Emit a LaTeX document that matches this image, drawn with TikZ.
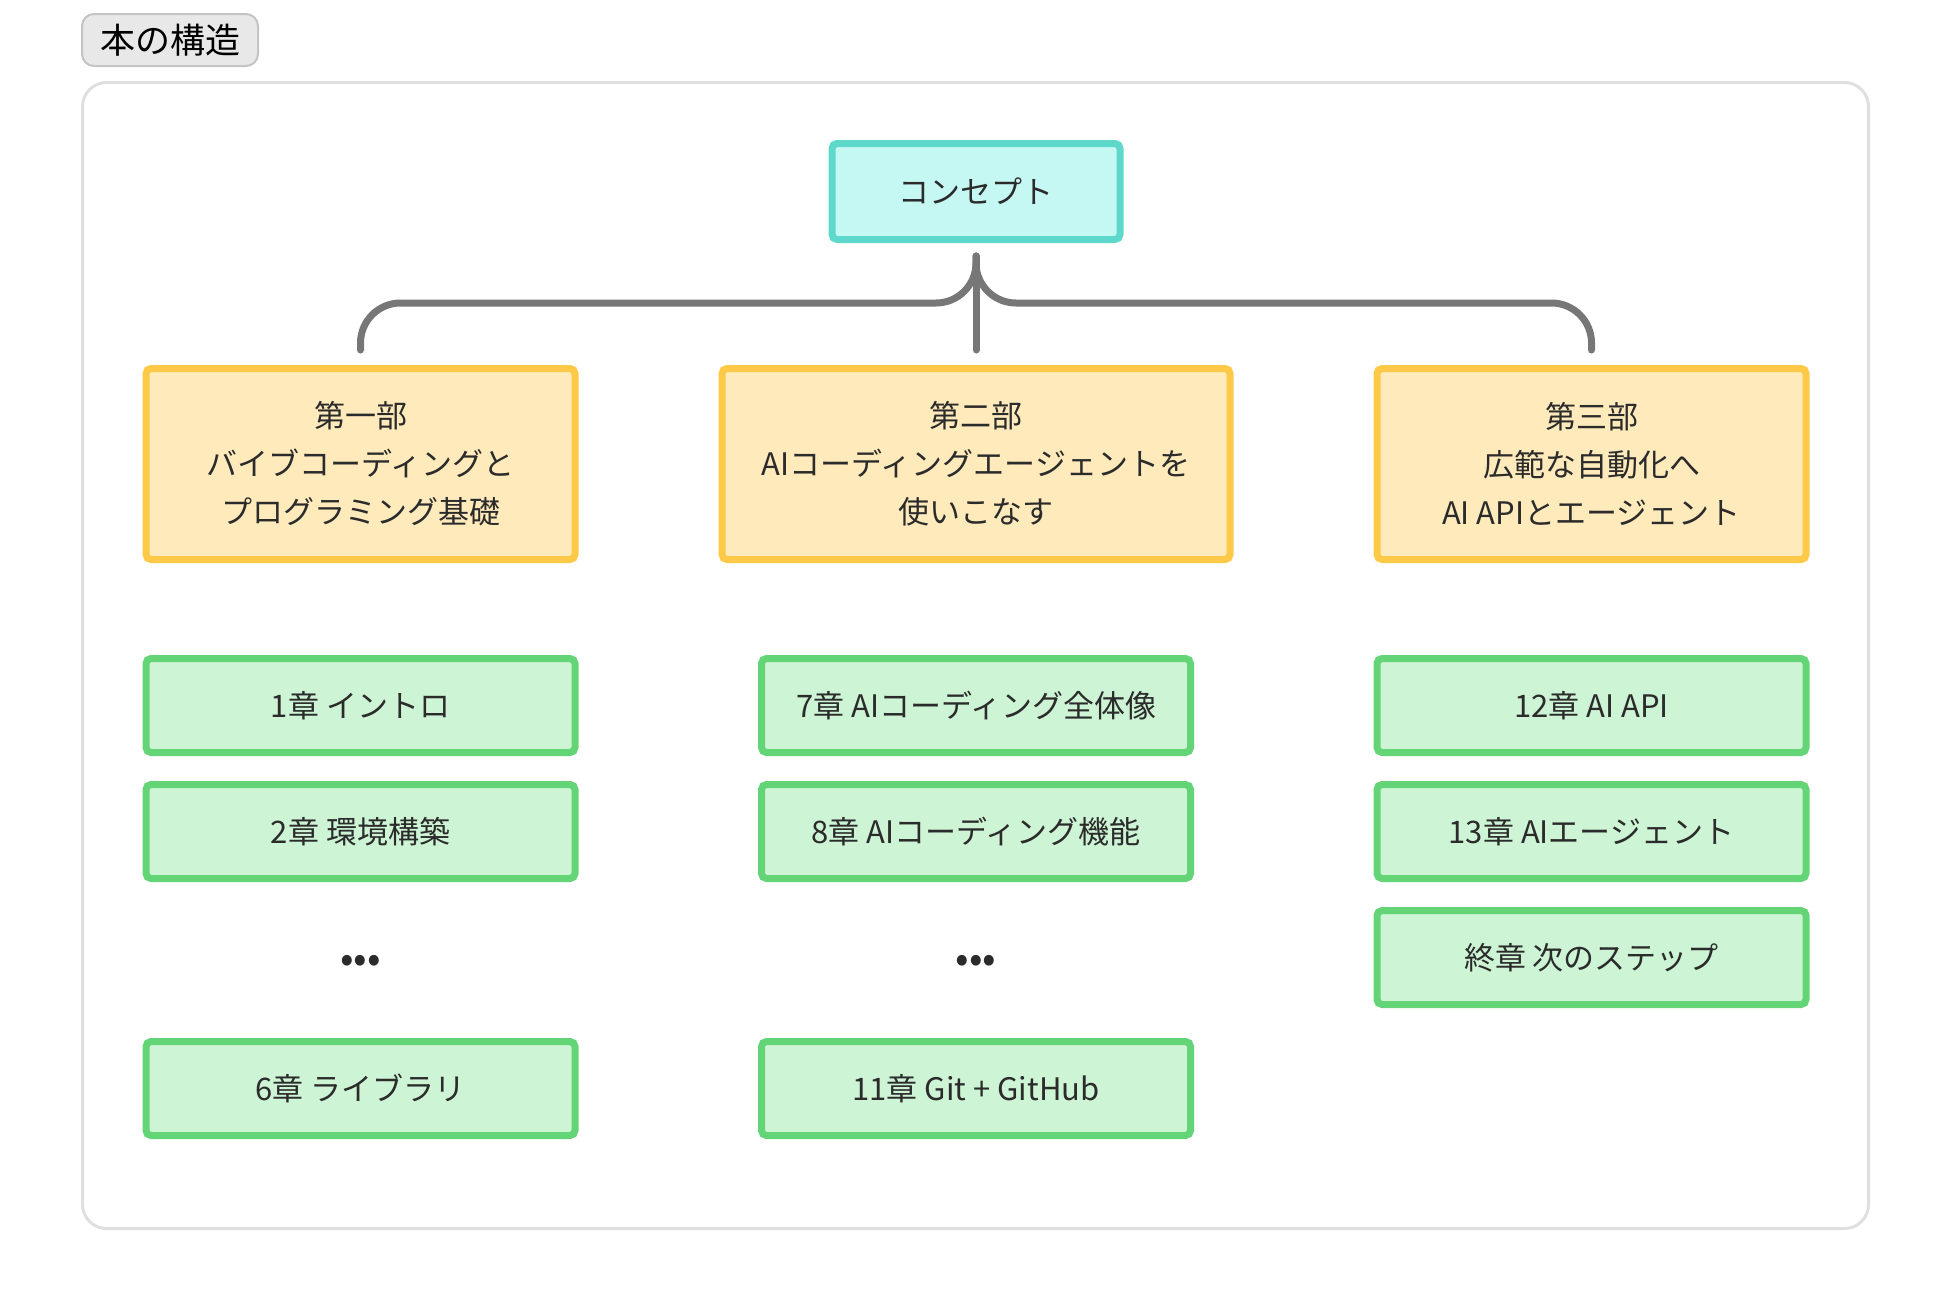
\documentclass[tikz,border=0pt]{standalone}
\usepackage{fontspec}
\setmainfont{Noto Sans CJK JP}
\usetikzlibrary{positioning,calc}

\definecolor{conceptfill}{HTML}{C6F8F3}
\definecolor{conceptline}{HTML}{5DD8CB}
\definecolor{partfill}{HTML}{FEEABB}
\definecolor{partline}{HTML}{FDC946}
\definecolor{chapfill}{HTML}{CDF4D4}
\definecolor{chapline}{HTML}{64D577}
\definecolor{bracegray}{HTML}{777777}
\definecolor{textdark}{HTML}{2B2B2B}
\definecolor{framegray}{HTML}{DFDFDF}
\definecolor{titlefill}{HTML}{E8E8E8}
\definecolor{titleline}{HTML}{C4C4C4}

\begin{document}
\begin{tikzpicture}[x = 0.5pt, y = -0.5pt, node distance = 12.5pt]

    % Define block styles
    \tikzstyle{block} = [rectangle, draw, line width = 3.5pt, rounded corners = 2.5pt,
        text = textdark, align = center, font = \fontsize{15.5pt}{24pt}\selectfont]
    \tikzstyle{concept} = [block, fill = conceptfill, draw = conceptline,
        minimum width = 144pt, minimum height = 48pt]
    \tikzstyle{part} = [block, fill = partfill, draw = partline, minimum height = 95.5pt]
    \tikzstyle{chapter} = [block, fill = chapfill, draw = chapline,
        minimum width = 214.5pt, minimum height = 47pt]
    \tikzstyle{ellipsis} = [rectangle, text = textdark, font = \fontsize{20pt}{20pt}\selectfont]
    \tikzstyle{titlebox} = [rectangle, draw = titleline, fill = titlefill, line width = 1pt,
        rounded corners = 6pt, minimum width = 88pt, minimum height = 26pt,
        font = \fontsize{17.5pt}{20pt}\selectfont]
    \tikzstyle{brace} = [draw = bracegray, line width = 3.5pt, line cap = round,
        rounded corners = 20pt]

    \useasboundingbox (0,0) rectangle (1952,1312);

    % Frame and title
    \draw [framegray, line width = 1.5pt, rounded corners = 12pt]
        (82.5,82.5) rectangle (1868.5,1228.5);
    \node [titlebox] (title) at (170,40) {本の構造};

    % Place nodes
    \node [concept] (concept) at (976,191.5) {コンセプト};
    \node [part, minimum width = 254pt, below = 61pt of concept] (part2)
        {第二部\\AIコーディングエージェントを\\使いこなす};
    \node [part, minimum width = 214.5pt, left = 70pt of part2] (part1)
        {第一部\\バイブコーディングと\\プログラミング基礎};
    \node [part, minimum width = 214.5pt, right = 70pt of part2] (part3)
        {第三部\\広範な自動化へ\\AI APIとエージェント};

    \node [chapter, below = 46pt of part1] (ch1) {1章 イントロ};
    \node [chapter, below = of ch1] (ch2) {2章 環境構築};
    \node [chapter, below = 78pt of ch2] (ch6) {6章 ライブラリ};
    \node [ellipsis] (more1) at ($(ch2)!0.5!(ch6)+(0,4)$) {•••};

    \node [chapter, below = 46pt of part2] (ch7) {7章 AIコーディング全体像};
    \node [chapter, below = of ch7] (ch8) {8章 AIコーディング機能};
    \node [chapter, below = 78pt of ch8] (ch11) {11章 Git + GitHub};
    \node [ellipsis] (more2) at ($(ch8)!0.5!(ch11)+(0,4)$) {•••};

    \node [chapter, below = 46pt of part3] (ch12) {12章 AI API};
    \node [chapter, below = of ch12] (ch13) {13章 AIエージェント};
    \node [chapter, below = of ch13] (ch14) {終章 次のステップ};

    % Draw edges
    \coordinate (fork) at ($(concept.south)+(0,13)$);
    \coordinate (hub) at ($(fork)+(0,47)$);
    \path [brace] ($(part1.north)+(0,-15)$) |- (hub) -- (fork);
    \path [brace] ($(part3.north)+(0,-15)$) |- (hub) -- (fork);
    \path [brace] (fork) -- ($(part2.north)+(0,-15)$);

\end{tikzpicture}
\end{document}
